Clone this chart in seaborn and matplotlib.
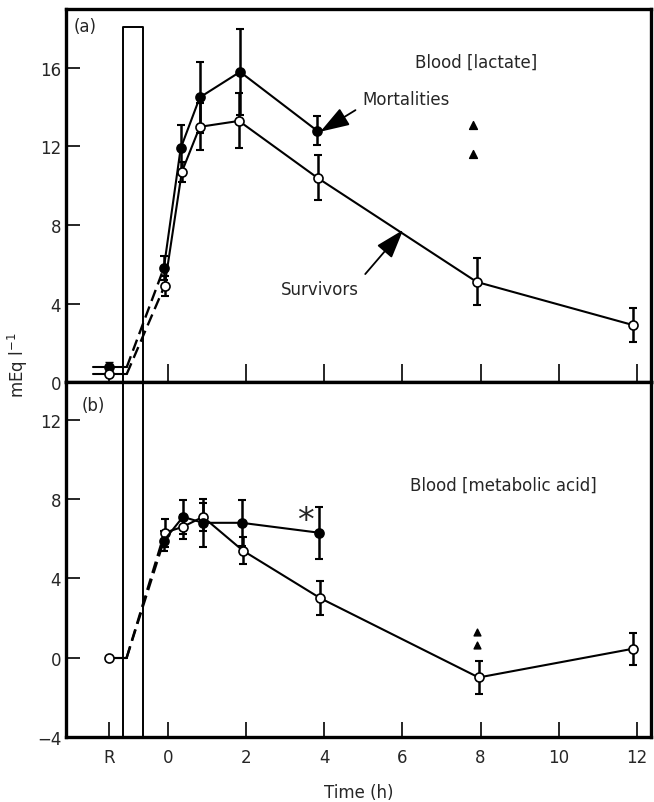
import matplotlib
matplotlib.use("Agg")
import matplotlib.pyplot as plt
import seaborn as sns
import pandas as pd

sns.set_style("ticks")
plt.rcParams['font.family'] = ['DejaVu Sans']

# ---------------- data ----------------
x_ticks = [-1.5, 0, 2, 4, 6, 8, 10, 12]
x_ticklabels = ["R", "0", "2", "4", "6", "8", "10", "12"]

# (a) Blood lactate
lac_rest_mort = 0.75
lac_rest_surv = 0.4
lac_mort_t = [-0.1, 0.33, 0.82, 1.85, 3.82]
lac_mort_v = [5.8, 11.9, 14.5, 15.8, 12.8]
lac_mort_e = [0.6, 1.2, 1.8, 2.2, 0.75]
lac_surv_t = [-0.08, 0.36, 0.82, 1.82, 3.83, 7.9, 11.9]
lac_surv_v = [4.9, 10.7, 13.0, 13.3, 10.4, 5.1, 2.9]
lac_surv_e = [0.5, 0.5, 1.2, 1.4, 1.15, 1.2, 0.85]
lac_tri_t = [7.8, 7.8]
lac_tri_v = [13.1, 11.6]

# (b) Blood metabolic acid
met_rest = 0.0
met_mort_t = [-0.1, 0.39, 0.9, 1.89, 3.87]
met_mort_v = [5.9, 7.1, 6.8, 6.8, 6.3]
met_mort_e = [0.5, 0.85, 1.2, 1.15, 1.3]
met_surv_t = [-0.08, 0.39, 0.9, 1.92, 3.9, 7.95, 11.9]
met_surv_v = [6.3, 6.6, 7.1, 5.4, 3.0, -1.0, 0.45]
met_surv_e = [0.7, 0.6, 0.7, 0.7, 0.85, 0.85, 0.8]
met_tri_t = [7.9, 7.9]
met_tri_v = [1.3, 0.66]

# ---------------- layout constants ----------------
R_X = -1.5
REST_END = -1.05
BOX_L, BOX_R, BOX_TOP = -1.15, -0.62, 18.1
XLIM = (-2.6, 12.35)

fig = plt.figure(figsize=(6.54, 8.03), dpi=100)
ax1 = fig.add_axes([0.101, 0.523, 0.894, 0.4645])
ax2 = fig.add_axes([0.101, 0.081, 0.894, 0.442])

FS = 12
ARROW = dict(arrowstyle="-|>,head_length=0.9,head_width=0.3", mutation_scale=20,
             lw=1.3, color="black", shrinkA=0, shrinkB=0)


def series(ax, t, v, e, filled):
    df = pd.DataFrame({"t": t, "v": v})
    sns.lineplot(data=df, x="t", y="v", ax=ax, color="black", lw=1.5,
                 marker="o", markersize=6.5,
                 markerfacecolor="black" if filled else "white",
                 markeredgecolor="black", markeredgewidth=1.2, zorder=4)
    ax.errorbar(t, v, yerr=e, fmt="none", ecolor="black", elinewidth=1.8,
                capsize=3, capthick=1.5, zorder=3)


def rest(ax, x0, yr, t0, v0, filled, show_marker=True):
    ax.plot([x0, REST_END], [yr, yr], color="black", lw=1.5, zorder=3)
    ax.plot([REST_END, t0], [yr, v0], color="black", lw=1.7, ls=(0, (5, 2.5)), zorder=3)
    if show_marker:
        ax.plot([R_X], [yr], marker="o", ms=6.5, color="black",
                mfc="black" if filled else "white", mew=1.2, zorder=5)


# ---------- panel (a) ----------
series(ax1, lac_surv_t, lac_surv_v, lac_surv_e, False)
series(ax1, lac_mort_t, lac_mort_v, lac_mort_e, True)
ax1.errorbar([R_X], [lac_rest_mort], yerr=[0.25], fmt="none", ecolor="black",
             elinewidth=1.5, capsize=3)
rest(ax1, -1.9, lac_rest_mort, lac_mort_t[0], lac_mort_v[0], True)
rest(ax1, -1.9, lac_rest_surv, lac_surv_t[0], lac_surv_v[0], False)
ax1.scatter(lac_tri_t, lac_tri_v, marker="^", s=32, color="black", zorder=5)
ax1.plot([BOX_L, BOX_L, BOX_R, BOX_R], [0, BOX_TOP, BOX_TOP, 0], color="black", lw=1.4, zorder=2)

ax1.set_xlim(*XLIM)
ax1.set_ylim(0, 19.0)
ax1.set_yticks([0, 4, 8, 12, 16])
ax1.set_xticks(x_ticks)
ax1.set_xticklabels([])
ax1.tick_params(axis="x", direction="in", length=13, width=1.4)
ax1.tick_params(axis="y", direction="in", length=10, width=1.4, labelsize=FS)
ax1.text(-2.4, 17.9, "(a)", fontsize=FS)
ax1.text(7.88, 16.3, "Blood [lactate]", fontsize=FS, ha="center", va="center")
ax1.text(6.1, 14.4, "Mortalities", fontsize=FS, ha="center", va="center")
ax1.annotate("", xy=(3.9, 12.75), xytext=(4.8, 13.85), arrowprops=ARROW)
ax1.text(3.89, 4.75, "Survivors", fontsize=FS, ha="center", va="center")
ax1.annotate("", xy=(6.02, 7.75), xytext=(5.05, 5.5), arrowprops=ARROW)
ax1.set_xlabel("")
ax1.set_ylabel("")

# ---------- panel (b) ----------
series(ax2, met_surv_t, met_surv_v, met_surv_e, False)
series(ax2, met_mort_t, met_mort_v, met_mort_e, True)
rest(ax2, R_X, met_rest, met_mort_t[0], met_mort_v[0], True, show_marker=False)
rest(ax2, R_X, met_rest, met_surv_t[0], met_surv_v[0], False)
ax2.scatter(met_tri_t, met_tri_v, marker="^", s=24, color="black", zorder=5)
ax2.plot([BOX_L, BOX_L], [-4, 13.9], color="black", lw=1.4, zorder=2)
ax2.plot([BOX_R, BOX_R], [-4, 13.9], color="black", lw=1.4, zorder=2)

ax2.set_xlim(*XLIM)
ax2.set_ylim(-4, 13.9)
ax2.set_yticks([-4, 0, 4, 8, 12])
ax2.set_yticklabels(["\u22124", "0", "4", "8", "12"])
ax2.set_xticks(x_ticks)
ax2.set_xticklabels(x_ticklabels)
ax2.tick_params(axis="x", direction="in", length=11, width=1.4, labelsize=FS, pad=8)
ax2.tick_params(axis="y", direction="in", length=10, width=1.4, labelsize=FS)
ax2.text(-2.2, 12.5, "(b)", fontsize=FS)
ax2.text(8.57, 8.7, "Blood [metabolic acid]", fontsize=FS, ha="center", va="center")
ax2.text(3.53, 6.9, "*", fontsize=24, ha="center", va="center")
ax2.set_xlabel("Time (h)", fontsize=FS, labelpad=12)
ax2.set_ylabel("")

for ax in (ax1, ax2):
    for s in ax.spines.values():
        s.set_linewidth(2.4)
        s.set_color("black")

fig.text(0.028, 0.545, "mEq l$^{-1}$", rotation=90, fontsize=FS, ha="center", va="center")

fig.savefig("out.png", dpi=100)
